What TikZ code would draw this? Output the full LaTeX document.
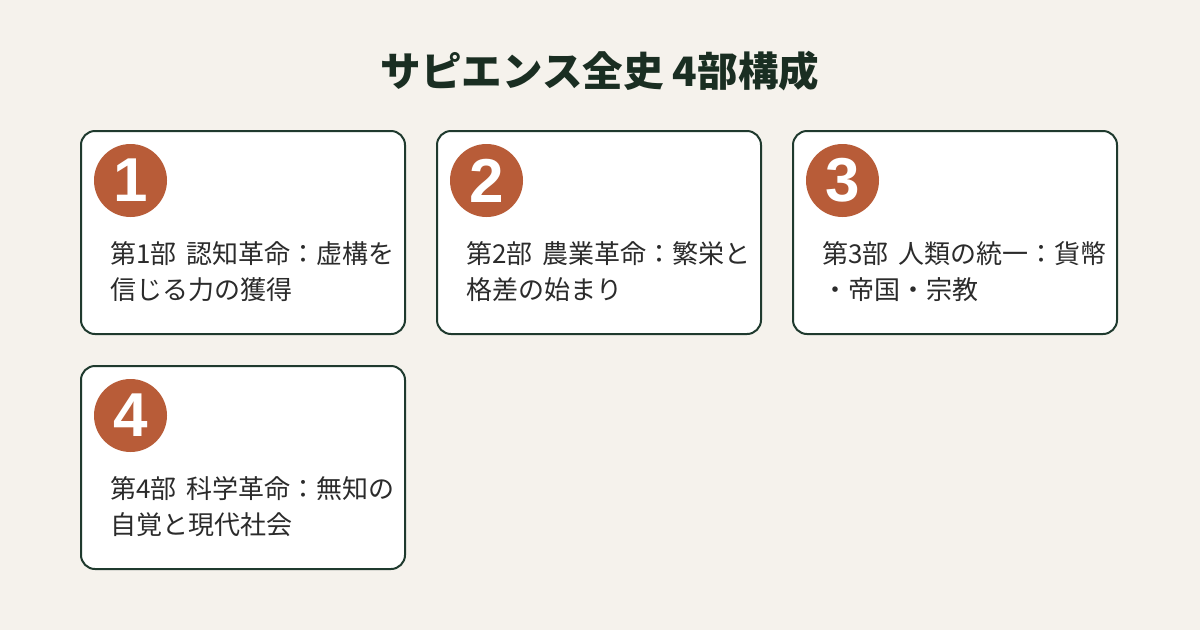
\documentclass[tikz,border=0pt]{standalone}
\usepackage{fontspec}
\setmainfont{Noto Sans CJK JP}
\newfontfamily\cjk{Noto Sans CJK JP}
\newfontfamily\digitfont{Liberation Sans}
\definecolor{bgc}{HTML}{F5F2EC}
\definecolor{borderc}{HTML}{1F3A2E}
\definecolor{accent}{HTML}{B85C38}
\definecolor{txt}{HTML}{2B2B2B}
\definecolor{ttl}{HTML}{1A2E22}
\newcommand{\gapsp}{\hspace{0.38em}}
\begin{document}
\begin{tikzpicture}[x=1pt,y=-1pt,
  card/.style={draw=borderc,line width=2pt,fill=white,rounded corners=14pt},
  badge/.style={circle,fill=accent,minimum size=73pt,inner sep=0pt,text=white,font=\digitfont\bfseries\fontsize{62}{62}\selectfont},
  body/.style={anchor=base west,inner sep=0pt,text=txt,font=\cjk\fontsize{26}{30}\selectfont},
  titlestyle/.style={anchor=base,inner sep=0pt,text=ttl,font=\cjk\bfseries\fontsize{40.5}{44}\selectfont}]
\fill[bgc] (0,0) rectangle (1200,630);
\useasboundingbox (0,0) rectangle (1200,630);
\node[titlestyle] (title) at (600,86) {サピエンス全史 4部構成};
% cards
\draw[card] (81,131) rectangle (405,334);
\draw[card] (437,131) rectangle (761,334);
\draw[card] (793,131) rectangle (1117,334);
\draw[card] (81,366) rectangle (405,569);
\node[badge] (n1) at (130.5,180.5) {1};
\node[badge] (n2) at (486.5,180.5) {2};
\node[badge] (n3) at (842.5,180.5) {3};
\node[badge] (n4) at (130.5,415.5) {4};
\node[body] (t1a) at (110,263) {第1部\gapsp 認知革命：虚構を};
\node[body] (t1b) at (110,299) {信じる力の獲得};
\node[body] (t2a) at (466,263) {第2部\gapsp 農業革命：繁栄と};
\node[body] (t2b) at (466,299) {格差の始まり};
\node[body] (t3a) at (822,263) {第3部\gapsp 人類の統一：貨幣};
\node[body] (t3b) at (822,299) {・帝国・宗教};
\node[body] (t4a) at (110,498) {第4部\gapsp 科学革命：無知の};
\node[body] (t4b) at (110,534) {自覚と現代社会};
\end{tikzpicture}
\end{document}
